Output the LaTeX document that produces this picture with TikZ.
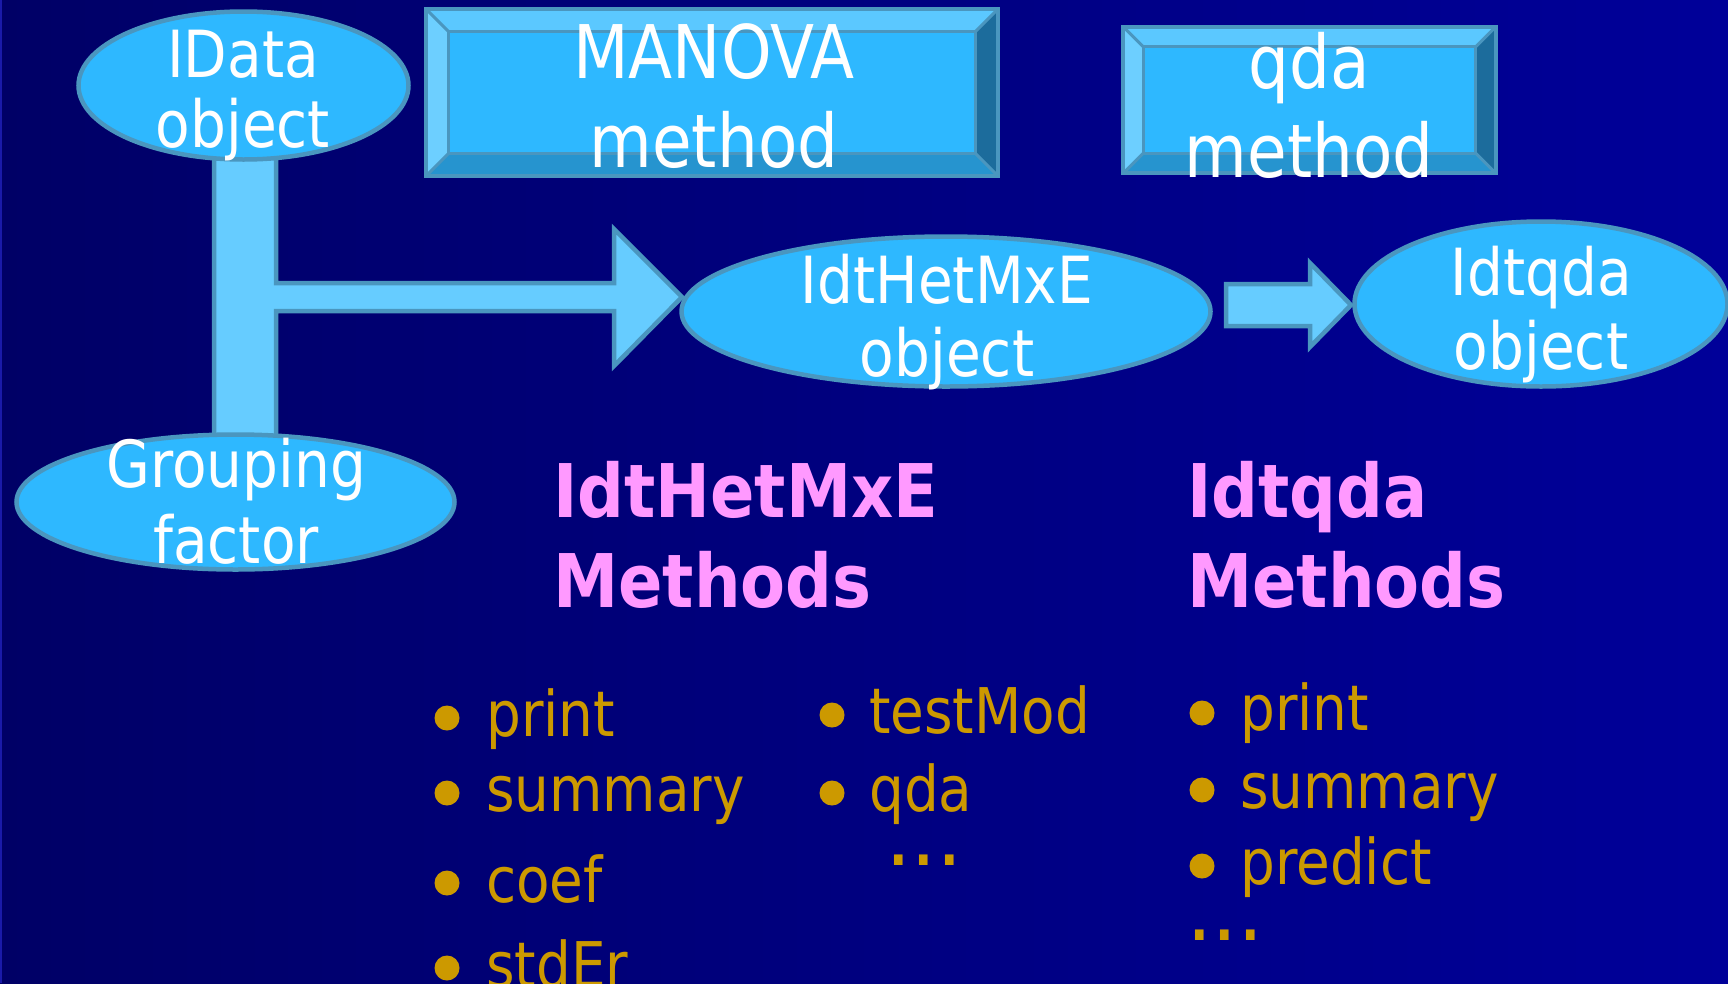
\documentclass[tikz,border=0pt]{standalone}
\usepackage{fontspec}
\usetikzlibrary{shapes.geometric,calc}
\newfontfamily\labfont[FakeStretch=0.87]{DejaVu Sans}
\newfontfamily\headfont[FakeStretch=0.885]{DejaVu Sans}
\definecolor{bgL}{HTML}{000066}
\definecolor{bgR}{HTML}{000099}
\definecolor{edgec}{HTML}{4A96BF}
\definecolor{ellfill}{HTML}{2EB8FF}
\definecolor{arrfill}{HTML}{66CCFF}
\definecolor{bevtop}{HTML}{5BC8FF}
\definecolor{bevleft}{HTML}{6DCFFF}
\definecolor{bevright}{HTML}{1C6C9C}
\definecolor{bevbot}{HTML}{2694CF}
\definecolor{pinktxt}{HTML}{FF99FF}
\definecolor{goldtxt}{HTML}{CC9900}
\definecolor{leftline}{HTML}{1A1AA8}
\newcommand{\bevelbox}[2]{%
  \fill[bevtop] (#1.north west) -- (#1.north east) -- ($(#1.north east)+(-#2,#2)$) -- ($(#1.north west)+(#2,#2)$) -- cycle;
  \fill[bevbot] (#1.south west) -- (#1.south east) -- ($(#1.south east)+(-#2,-#2)$) -- ($(#1.south west)+(#2,-#2)$) -- cycle;
  \fill[bevleft] (#1.north west) -- ($(#1.north west)+(#2,#2)$) -- ($(#1.south west)+(#2,-#2)$) -- (#1.south west) -- cycle;
  \fill[bevright] (#1.north east) -- ($(#1.north east)+(-#2,#2)$) -- ($(#1.south east)+(-#2,-#2)$) -- (#1.south east) -- cycle;
  \fill[ellfill] ($(#1.north west)+(#2,#2)$) rectangle ($(#1.south east)+(-#2,-#2)$);
  \draw[edgec,line width=3] ($(#1.north west)+(#2,#2)$) rectangle ($(#1.south east)+(-#2,-#2)$);
  \draw[edgec,line width=3] (#1.north west) -- ($(#1.north west)+(#2,#2)$)
     (#1.north east) -- ($(#1.north east)+(-#2,#2)$)
     (#1.south west) -- ($(#1.south west)+(#2,-#2)$)
     (#1.south east) -- ($(#1.south east)+(-#2,-#2)$);
  \draw[edgec,line width=4] (#1.north west) rectangle (#1.south east);
}
\tikzset{
  ell/.style={ellipse, draw=edgec, fill=ellfill, line width=4.5, inner sep=0},
  blockarrow/.style={draw=edgec, fill=arrfill, line width=4.5, line join=miter},
  boxframe/.style={rectangle, inner sep=0, draw=none},
  wlab/.style={anchor=base, inner sep=0, text=white, font=\labfont\fontsize{65}{65}\selectfont},
  blab/.style={anchor=base, inner sep=0, text=white, font=\labfont\fontsize{74}{74}\selectfont},
  head/.style={anchor=base west, inner sep=0, text=pinktxt, font=\headfont\bfseries\fontsize{74}{74}\selectfont},
  item/.style={anchor=base west, inner sep=0, text=goldtxt, font=\labfont\fontsize{63}{63}\selectfont},
  dots/.style={anchor=base west, inner sep=0, text=goldtxt, font=\labfont\bfseries\fontsize{56}{56}\selectfont},
  bul/.style={circle, fill=goldtxt, inner sep=0, minimum size=25},
}
\begin{document}
\begin{tikzpicture}[x=1pt,y=-1pt]
\useasboundingbox (0,0) rectangle (1728,983);
\shade[left color=bgL, right color=bgR] (0,0) rectangle (1728,983);
\fill[leftline] (0,0) rectangle (2,983);

% boxes
\node[boxframe, minimum width=572, minimum height=167] (manova) at (712,92.5) {};
\node[boxframe, minimum width=372, minimum height=146] (qdabox) at (1309.5,100) {};
\bevelbox{manova}{23}
\bevelbox{qdabox}{20}

% block arrows (behind ellipses)
\coordinate (tip1) at (682,297);
\coordinate (tip2) at (1351,305);
\draw[blockarrow] (214,150) -- (276,150) -- (276,283) -- (614,283) -- (614,229)
  -- (tip1) -- (614,366) -- (614,311) -- (276,311) -- (276,450) -- (214,450) -- cycle;
\draw[blockarrow] (1226,284) -- (1310,284) -- (1310,263) -- (tip2)
  -- (1310,347) -- (1310,326) -- (1226,326) -- cycle;

% ellipses
\node[ell, minimum width=330, minimum height=148] (idata) at (243.5,85.5) {};
\node[ell, minimum width=529, minimum height=150] (het) at (946,311.5) {};
\node[ell, minimum width=373, minimum height=165] (qdaobj) at (1541,304) {};
\node[ell, minimum width=438, minimum height=135] (group) at (235.5,502) {};

% white labels
\node[wlab] (idata1) at (243,77) {IData};
\node[wlab] (idata2) at (243,147) {object};
\node[blab] (manova1) at (714,78) {MANOVA};
\node[blab] (manova2) at (714,167) {method};
\node[blab] (qda1) at (1309,88) {qda};
\node[blab] (qda2) at (1309,177) {method};
\node[wlab] (het1) at (947,303) {IdtHetMxE};
\node[wlab] (het2) at (947,376) {object};
\node[wlab] (qo1) at (1541,295) {Idtqda};
\node[wlab] (qo2) at (1541,369) {object};
\node[wlab] (grp1) at (236,487) {Grouping};
\node[wlab] (grp2) at (236,563) {factor};

% pink headings
\node[head] (h1a) at (553,517) {IdtHetMxE};
\node[head] (h1b) at (553,607) {Methods};
\node[head] (h2a) at (1187,517) {Idtqda};
\node[head] (h2b) at (1187,607) {Methods};

% column 1
\node[bul] (b11) at (447,718) {};
\node[bul] (b12) at (447,793) {};
\node[bul] (b13) at (447,883) {};
\node[bul] (b14) at (447,968) {};
\node[item] (c11) at (486,736) {print};
\node[item] (c12) at (486,811) {summary};
\node[item] (c13) at (486,902) {coef};
\node[item] (c14) at (486,987) {stdEr};

% column 2
\node[bul] (b21) at (832,715) {};
\node[bul] (b22) at (832,793) {};
\node[item] (c21) at (869,733) {testMod};
\node[item] (c22) at (869,811) {qda};
\node[dots] (c23) at (889,865) {.\hspace{7pt}.\hspace{7pt}.};

% column 3
\node[bul] (b31) at (1202,713) {};
\node[bul] (b32) at (1202,790) {};
\node[bul] (b33) at (1202,866) {};
\node[item] (c31) at (1240,730) {print};
\node[item] (c32) at (1240,808) {summary};
\node[item] (c33) at (1240,884) {predict};
\node[dots] (c34) at (1190,940) {.\hspace{7pt}.\hspace{7pt}.};
\end{tikzpicture}
\end{document}
